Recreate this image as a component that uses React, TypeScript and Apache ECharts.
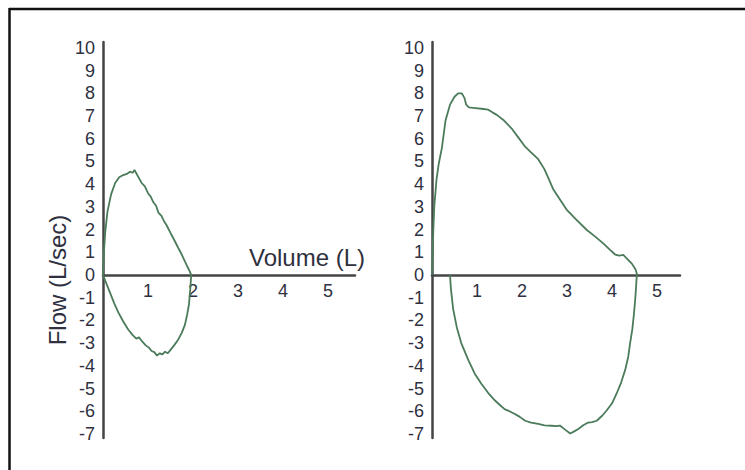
import React, { useEffect, useRef } from "react";
import * as echarts from "echarts";

// Left loop (obstructed): expiration (upper) and inspiration (lower)
const leftExpVol = [0, 0.02, 0.05, 0.1, 0.18, 0.27, 0.36, 0.45, 0.53, 0.6, 0.66, 0.7, 0.74, 0.79, 0.86, 0.93, 1.0, 1.06, 1.12, 1.18, 1.23, 1.3, 1.36, 1.41, 1.5, 1.58, 1.67, 1.75, 1.82, 1.88, 1.93, 1.96];
const leftExpFlow = [0, 1.0, 1.9, 2.8, 3.55, 4.05, 4.3, 4.4, 4.45, 4.55, 4.5, 4.62, 4.48, 4.3, 4.05, 3.9, 3.6, 3.45, 3.2, 3.05, 2.75, 2.6, 2.35, 2.2, 1.85, 1.55, 1.2, 0.9, 0.6, 0.35, 0.15, 0];
const leftInsVol = [0, 0.08, 0.16, 0.25, 0.34, 0.45, 0.56, 0.66, 0.74, 0.8, 0.88, 0.95, 1.02, 1.08, 1.14, 1.2, 1.26, 1.32, 1.38, 1.44, 1.5, 1.58, 1.67, 1.75, 1.82, 1.87, 1.91, 1.94, 1.96];
const leftInsFlow = [0, -0.4, -0.8, -1.25, -1.65, -2.05, -2.4, -2.65, -2.8, -2.75, -2.95, -3.1, -3.2, -3.35, -3.4, -3.55, -3.45, -3.5, -3.38, -3.45, -3.3, -3.1, -2.85, -2.55, -2.2, -1.75, -1.3, -0.6, 0];

// Right loop (normal)
const rightExpVol = [0, 0.02, 0.05, 0.1, 0.15, 0.22, 0.3, 0.4, 0.5, 0.58, 0.66, 0.72, 0.76, 0.82, 0.96, 1.1, 1.25, 1.35, 1.44, 1.6, 1.77, 1.92, 2.07, 2.2, 2.36, 2.5, 2.6, 2.7, 2.85, 2.99, 3.2, 3.44, 3.62, 3.81, 3.95, 4.07, 4.16, 4.25, 4.33, 4.44, 4.52, 4.56];
const rightExpFlow = [0, 1.5, 3.0, 4.2, 4.9, 5.6, 6.8, 7.5, 7.85, 8.0, 8.0, 7.8, 7.5, 7.38, 7.35, 7.32, 7.28, 7.15, 7.05, 6.8, 6.45, 6.05, 5.65, 5.4, 5.1, 4.65, 4.2, 3.75, 3.3, 2.88, 2.45, 1.98, 1.7, 1.38, 1.12, 0.9, 0.85, 0.88, 0.72, 0.5, 0.25, 0];
const rightInsVol = [0.4, 0.42, 0.47, 0.55, 0.65, 0.81, 0.95, 1.1, 1.25, 1.4, 1.52, 1.62, 1.72, 1.84, 1.95, 2.07, 2.2, 2.36, 2.5, 2.66, 2.76, 2.84, 2.95, 3.07, 3.15, 3.25, 3.36, 3.47, 3.56, 3.66, 3.78, 3.88, 4.0, 4.1, 4.2, 4.29, 4.36, 4.4, 4.45, 4.48, 4.51, 4.53, 4.55];
const rightInsFlow = [0, -0.6, -1.5, -2.3, -3.0, -3.76, -4.35, -4.8, -5.2, -5.53, -5.75, -5.92, -6.0, -6.12, -6.25, -6.42, -6.5, -6.56, -6.62, -6.64, -6.66, -6.63, -6.8, -6.98, -6.9, -6.78, -6.62, -6.5, -6.48, -6.42, -6.2, -5.97, -5.65, -5.23, -4.75, -4.2, -3.6, -3.02, -2.4, -1.85, -1.2, -0.66, 0];

const flowTicks = [-7, -6, -5, -4, -3, -2, -1, 0, 1, 2, 3, 4, 5, 6, 7, 8, 9, 10];
const volumeTicks = [1, 2, 3, 4, 5];

const xTitle = "Volume (L)";
const yTitle = "Flow (L/sec)";

const zip = (a: number[], b: number[]) => a.map((v, i) => [v, b[i]]);

const CURVE = "#4b7b5a";
const AXIS = "#454545";
const TEXT = "#2f3040";
const FONT = "'Liberation Sans', Arial, sans-serif";

const Y_MIN = -7.18;
const Y_MAX = 10.26;
const LEFT_X_MAX = 5.6;
const RIGHT_X_MAX = 5.51;

export default function App() {
  const ref = useRef<HTMLDivElement>(null);
  useEffect(() => {
    if (!ref.current) return;
    const chart = echarts.init(ref.current, undefined, { renderer: "svg" });
    const labelStyle = { color: TEXT, fontSize: 18, fontFamily: FONT };
    const yAxisBase = (gridIndex: number) => ({
      type: "value",
      gridIndex,
      min: Y_MIN,
      max: Y_MAX,
      axisLine: { show: true, onZero: false, lineStyle: { color: AXIS, width: 2.5 } },
      axisTick: { show: false },
      splitLine: { show: false },
      axisLabel: { customValues: flowTicks, margin: 8, ...labelStyle },
    });
    const xAxisBase = (gridIndex: number, max: number) => ({
      type: "value",
      gridIndex,
      min: 0,
      max,
      axisLine: { show: true, onZero: true, lineStyle: { color: AXIS, width: 2.5 } },
      axisTick: { show: false },
      splitLine: { show: false },
      axisLabel: { show: false },
    });
    // label-only x axes on grids whose bottom edge sits on the zero line
    const xLabelAxis = (gridIndex: number, max: number) => ({
      type: "value",
      gridIndex,
      min: 0,
      max,
      axisLine: { show: false },
      axisTick: { show: false },
      splitLine: { show: false },
      axisLabel: { customValues: volumeTicks, margin: 7, ...labelStyle },
    });
    const hiddenY = (gridIndex: number) => ({
      type: "value",
      gridIndex,
      min: 0,
      max: Y_MAX,
      show: false,
    });
    const line = (x: number, data: number[][]) => ({
      type: "line",
      xAxisIndex: x,
      yAxisIndex: x,
      data,
      showSymbol: false,
      symbol: "none",
      lineStyle: { color: CURVE, width: 1.8 },
      silent: true,
    });
    const zeroH = (Y_MAX / (Y_MAX - Y_MIN)) * 396;
    chart.setOption({
      animation: false,
      backgroundColor: "#ffffff",
      grid: [
        { left: 103, top: 42, width: 252, height: 396 },
        { left: 432, top: 42, width: 248, height: 396 },
        { left: 103, top: 42, width: 252, height: zeroH },
        { left: 432, top: 42, width: 248, height: zeroH },
      ],
      xAxis: [
        xAxisBase(0, LEFT_X_MAX),
        xAxisBase(1, RIGHT_X_MAX),
        xLabelAxis(2, LEFT_X_MAX),
        xLabelAxis(3, RIGHT_X_MAX),
      ],
      yAxis: [yAxisBase(0), yAxisBase(1), hiddenY(2), hiddenY(3)],
      series: [
        line(0, zip(leftExpVol, leftExpFlow)),
        line(0, zip(leftInsVol, leftInsFlow)),
        line(1, zip(rightExpVol, rightExpFlow)),
        line(1, zip(rightInsVol, rightInsFlow)),
      ],
      graphic: [
        { type: "line", shape: { x1: 9, y1: 9, x2: 745, y2: 9 }, style: { stroke: "#111", lineWidth: 2.5 } },
        { type: "line", shape: { x1: 9.5, y1: 8, x2: 9.5, y2: 470 }, style: { stroke: "#111", lineWidth: 2.5 } },
        {
          type: "text",
          x: 249,
          y: 257,
          style: { text: xTitle, fill: TEXT, font: `24px ${FONT}`, textAlign: "left", textVerticalAlign: "middle" },
        },
        {
          type: "text",
          x: 57,
          y: 280,
          rotation: Math.PI / 2,
          style: { text: yTitle, fill: TEXT, font: `24px ${FONT}`, textAlign: "center", textVerticalAlign: "middle" },
        },
      ],
    });
    return () => chart.dispose();
  }, []);
  return (
    <div
      ref={ref}
      style={{ position: "fixed", left: 0, top: 0, width: 745, height: 470, background: "#fff" }}
    />
  );
}
